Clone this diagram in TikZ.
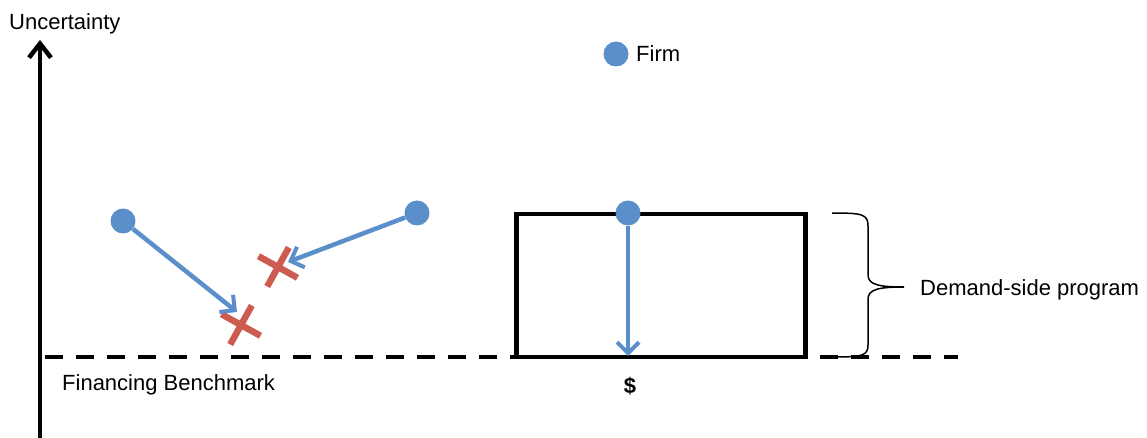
\documentclass[tikz,border=0pt]{standalone}
\usepackage{fontspec}
\setmainfont{Liberation Sans}
\usetikzlibrary{arrows.meta,shapes.misc}
\definecolor{firmblue}{RGB}{91,143,201}
\definecolor{xred}{RGB}{205,92,80}
\tikzset{
  firm/.style={circle,fill=firmblue,inner sep=0pt,minimum size=25pt},
  move/.style={draw=firmblue,line width=4.5pt,-{Straight Barb[length=11pt,width=22pt,line width=4pt]}},
  fail/.style={cross out,draw=xred,line width=6.5pt,minimum size=25pt,inner sep=0pt,rotate=16},
  lbl/.style={font=\fontsize{22}{26}\selectfont,inner sep=0pt,anchor=base west},
}
\begin{document}
\begin{tikzpicture}[x=1pt,y=-1pt]
\useasboundingbox (0,0) rectangle (1147,438);
% axis
\coordinate (axbot) at (40,440);
\coordinate (axtop) at (40,40);
\draw[line width=4.5pt,-{Straight Barb[length=14pt,width=22pt,line width=4.5pt]}] (axbot) -- (axtop);
\node[lbl] (unc) at (9,30) {Uncertainty};
% baseline
\coordinate (bl0) at (40,357);
\coordinate (bl1) at (958,357);
\draw[line width=4.5pt,dash pattern=on 18pt off 13pt,dash phase=-5pt] (bl0) -- (bl1);
\node[lbl] (fin) at (62,390) {Financing Benchmark};
% rectangle
\node[draw,line width=4.5pt,minimum width=289pt,minimum height=143pt,inner sep=0pt] (prog) at (661,285.5) {};
% legend
\node[firm] (leg) at (616,54) {};
\node[lbl] (legt) at (636,62) {Firm};
% firms
\node[firm] (f1) at (123,221) {};
\node[firm] (f2) at (417,213) {};
\node[firm] (f3) at (628,213) {};
\node[fail] (x1) at (241,325) {};
\node[fail] (x2) at (278,267) {};
\coordinate (t1) at (237,312);
\coordinate (t2) at (288,262);
\coordinate (t3) at (628,356);
\draw[move] (f1) -- (t1);
\draw[move] (f2) -- (t2);
\draw[move] (f3) -- (t3);
\node[font=\bfseries\fontsize{22}{26}\selectfont,inner sep=0pt,anchor=base] (dol) at (630,393) {\$};
% brace
\coordinate (b0) at (832,213);
\coordinate (bt) at (904,287);
\coordinate (b1) at (832,357);
\draw[line width=1.5pt] (b0) .. controls (862,213) and (868,214) .. (868,226)
  -- (868,275) .. controls (868,285) and (880,287) .. (bt)
  .. controls (880,287) and (868,289) .. (868,299)
  -- (868,345) .. controls (868,356) and (862,357) .. (b1);
\node[lbl] (dsp) at (920,295) {Demand-side program};
\end{tikzpicture}
\end{document}
